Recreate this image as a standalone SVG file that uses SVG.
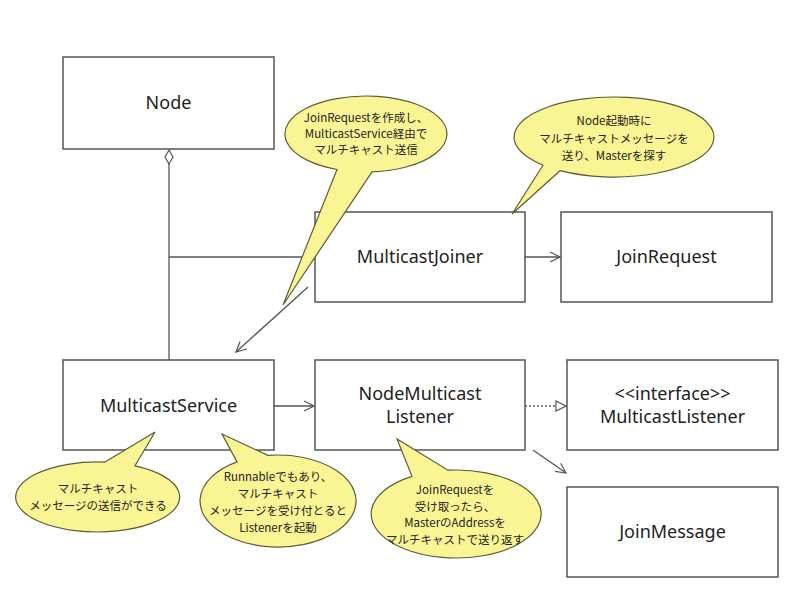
<svg xmlns="http://www.w3.org/2000/svg" width="800" height="600" viewBox="0 0 800 600">
<style>
.box{fill:#fff;stroke:#555;stroke-width:1.5}
.lbl{font-family:"Noto Sans","Noto Sans CJK JP",sans-serif;font-size:18px;fill:#222;text-anchor:middle}
.con{stroke:#555;stroke-width:1.3;fill:none}
.call{fill:#faf594;stroke:#5c5c35;stroke-width:1.2}
.ct{font-family:"Noto Sans CJK JP","Noto Sans",sans-serif;font-size:11.5px;fill:#222;text-anchor:middle}
</style>
<defs>
<marker id="open" viewBox="0 0 12 12" refX="11" refY="6" markerWidth="12" markerHeight="12" markerUnits="userSpaceOnUse" orient="auto">
<path d="M1,1 L11,6 L1,11" fill="none" stroke="#555" stroke-width="1.2"/>
</marker>
<marker id="tri" viewBox="0 0 12 12" refX="11" refY="6" markerWidth="12" markerHeight="12" markerUnits="userSpaceOnUse" orient="auto">
<path d="M1,1 L11,6 L1,11 Z" fill="#fff" stroke="#555" stroke-width="1.2"/>
</marker>
<marker id="dia" viewBox="0 0 16 10" refX="1" refY="5" markerWidth="16" markerHeight="10" markerUnits="userSpaceOnUse" orient="auto">
<path d="M1,5 L8,1 L15,5 L8,9 Z" fill="#fff" stroke="#555" stroke-width="1.2"/>
</marker>
</defs>
<rect width="800" height="600" fill="#fff"/>
<g id="connectors">
<path class="con" d="M169,150 L169,360" marker-start="url(#dia)"/>
<path class="con" d="M169,257 L315,257"/>
<path class="con" d="M525,257 L560,257" marker-end="url(#open)"/>
<path class="con" d="M274,406 L314,406" marker-end="url(#open)"/>
<path class="con" d="M525,406 L566,406" stroke-dasharray="2,2" marker-end="url(#tri)"/>
<path class="con" d="M533,450 L566,473" marker-end="url(#open)"/>
<path class="con" d="M308,287 L236,352" marker-end="url(#open)"/>
</g>
<g id="Node"><rect class="box" x="63" y="57" width="211" height="92"/><text class="lbl" x="168.5" y="109">Node</text></g>
<g id="MulticastJoiner"><rect class="box" x="315" y="212" width="210" height="90"/><text class="lbl" x="420" y="263">MulticastJoiner</text></g>
<g id="JoinRequest"><rect class="box" x="561" y="212" width="211" height="90"/><text class="lbl" x="666.5" y="263">JoinRequest</text></g>
<g id="MulticastService"><rect class="box" x="63" y="360" width="211" height="90"/><text class="lbl" x="168.5" y="412">MulticastService</text></g>
<g id="NodeMulticastListener"><rect class="box" x="315" y="360" width="210" height="90"/><text class="lbl" x="420" y="400">NodeMulticast</text><text class="lbl" x="420" y="423">Listener</text></g>
<g id="MulticastListener"><rect class="box" x="567" y="360" width="211" height="90"/><text class="lbl" x="672.5" y="400">&lt;&lt;interface&gt;&gt;</text><text class="lbl" x="672.5" y="423">MulticastListener</text></g>
<g id="JoinMessage"><rect class="box" x="567" y="487" width="211" height="90"/><text class="lbl" x="672.5" y="538">JoinMessage</text></g>
<g id="note-joinrequest">
<path class="call" d="M337,169.5 L283,305 L372,171.9 A81,38 0 1,0 337,169.5 Z"/>
<text class="ct" x="366" y="122">JoinRequestを作成し、</text>
<text class="ct" x="366" y="138">MulticastService経由で</text>
<text class="ct" x="366" y="154">マルチキャスト送信</text>
</g>
<g id="note-node">
<path class="call" d="M543,165.2 L512,214 L560,170.7 A100,40 0 1,0 543,165.2 Z"/>
<text class="ct" x="614" y="125">Node起動時に</text>
<text class="ct" x="614" y="143">マルチキャストメッセージを</text>
<text class="ct" x="614" y="160">送り、Masterを探す</text>
</g>
<g id="note-send">
<path class="call" d="M105,462.1 L155,432 L135,465.8 A82,35 0 1,1 105,462.1 Z"/>
<text class="ct" x="98" y="493">マルチキャスト</text>
<text class="ct" x="98" y="510">メッセージの送信ができる</text>
</g>
<g id="note-runnable">
<path class="call" d="M237,461.9 L222,434 L268,455.4 A78,46 0 1,1 237,461.9 Z"/>
<text class="ct" x="278" y="481">Runnableでもあり、</text>
<text class="ct" x="278" y="498">マルチキャスト</text>
<text class="ct" x="278" y="515">メッセージを受け付とると</text>
<text class="ct" x="278" y="532">Listenerを起動</text>
</g>
<g id="note-listener">
<path class="call" d="M412,476.4 L397,439 L448,470.2 A85,44 0 1,1 412,476.4 Z"/>
<text class="ct" x="455" y="494">JoinRequestを</text>
<text class="ct" x="455" y="511">受け取ったら、</text>
<text class="ct" x="455" y="527">MasterのAddressを</text>
<text class="ct" x="455" y="544">マルチキャストで送り返す</text>
</g>
</svg>
